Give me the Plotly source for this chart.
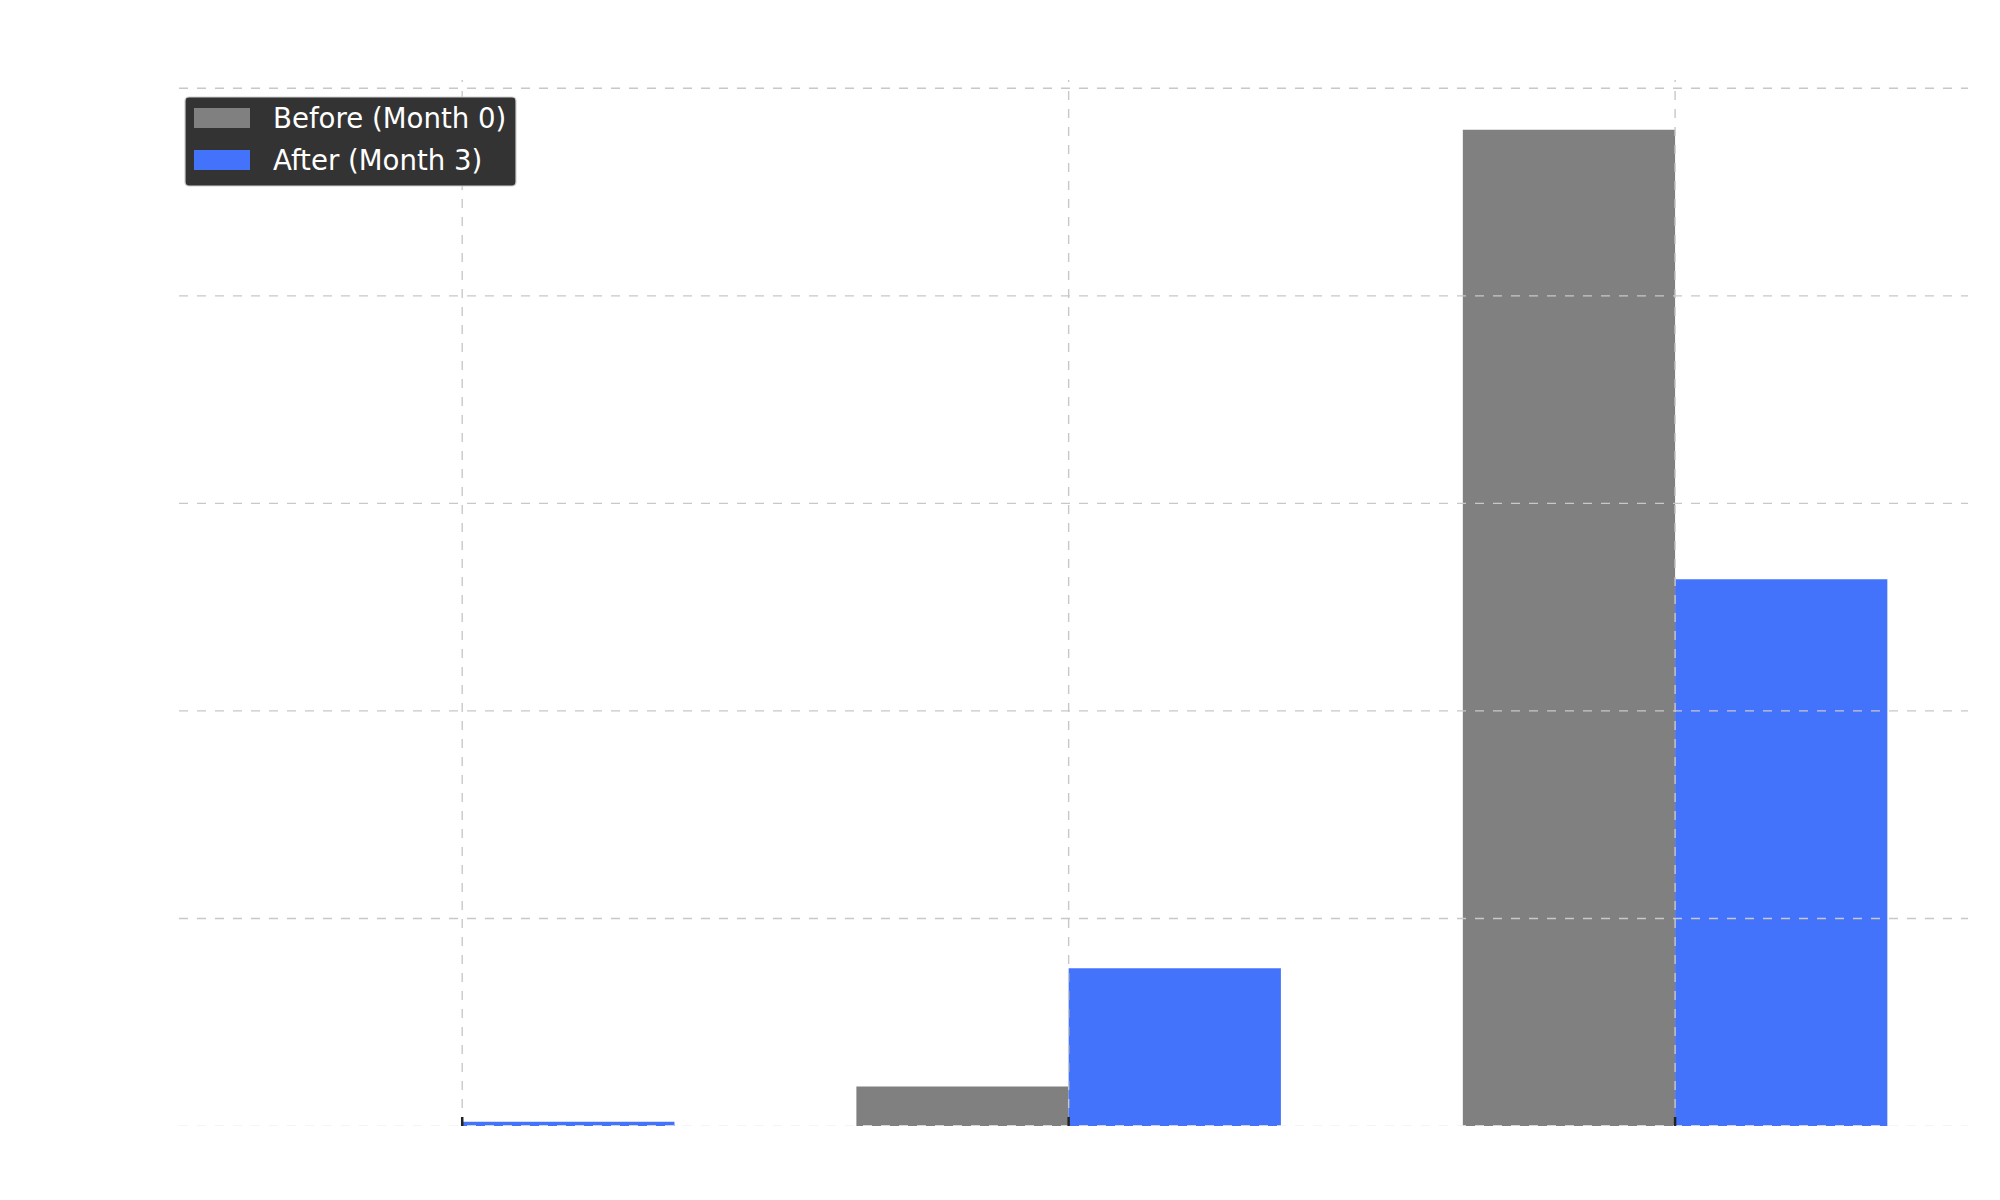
import plotly.graph_objects as go

categories = ["Mild", "Moderate", "Severe"]
before_vals = [0.0, 3.8, 96.0]
after_vals = [0.4, 15.2, 52.7]
y_ticks = [0, 20, 40, 60, 80, 100]
series_names = ["Before (Month 0)", "After (Month 3)"]

GRAY = "#808080"
BLUE = "#4473FB"
GRID = "#c8c8c8"

# plot area in pixels (for placing the legend box)
L, R, T, B = 179, 1968, 80, 1126
W, H = R - L, B - T


def px(x):
    return (x - L) / W


def py(y):
    return (B - y) / H


fig = go.Figure()
xs = list(range(len(categories)))
fig.add_trace(go.Bar(x=xs, y=before_vals, name=series_names[0],
                     marker=dict(color=GRAY, line=dict(width=0)),
                     width=0.35, offset=-0.35, showlegend=False))
fig.add_trace(go.Bar(x=xs, y=after_vals, name=series_names[1],
                     marker=dict(color=BLUE, line=dict(width=0)),
                     width=0.35, offset=0.0, showlegend=False))

shapes = []
for t in y_ticks:
    shapes.append(dict(type="line", xref="paper", yref="y", x0=0, x1=1, y0=t, y1=t,
                       line=dict(color="#f2f2f2" if t == 0 else GRID, width=1.4, dash="dash"),
                       layer="above"))
for i in xs:
    shapes.append(dict(type="line", xref="x", yref="paper", x0=i, x1=i, y0=0, y1=1,
                       line=dict(color=GRID, width=1.4, dash="dash"),
                       layer="above"))
    # tick mark (inside, pointing up)
    shapes.append(dict(type="line", xref="x", yref="paper", x0=i, x1=i, y0=0, y1=9 / H,
                       line=dict(color="#222222", width=2.5), layer="above"))

# legend box (rounded)
bx0, bx1, by0, by1, r = 185, 516, 97, 186, 4
path = (f"M{px(bx0 + r)},{py(by0)} L{px(bx1 - r)},{py(by0)} "
        f"Q{px(bx1)},{py(by0)} {px(bx1)},{py(by0 + r)} "
        f"L{px(bx1)},{py(by1 - r)} Q{px(bx1)},{py(by1)} {px(bx1 - r)},{py(by1)} "
        f"L{px(bx0 + r)},{py(by1)} Q{px(bx0)},{py(by1)} {px(bx0)},{py(by1 - r)} "
        f"L{px(bx0)},{py(by0 + r)} Q{px(bx0)},{py(by0)} {px(bx0 + r)},{py(by0)} Z")
shapes.append(dict(type="path", xref="paper", yref="paper", path=path,
                   fillcolor="#333333", line=dict(color="#d0d0d0", width=1.2), layer="above"))

annotations = []
colors = [GRAY, BLUE]
row_y = [118, 160]
for name, c, yc in zip(series_names, colors, row_y):
    shapes.append(dict(type="rect", xref="paper", yref="paper",
                       x0=px(194), x1=px(250), y0=py(yc - 10), y1=py(yc + 10),
                       fillcolor=c, line=dict(width=0), layer="above"))
    annotations.append(dict(xref="paper", yref="paper", x=px(271), y=py(yc),
                            xanchor="left", yanchor="middle", showarrow=False,
                            text=name, font=dict(size=27.6, color="white", family="DejaVu Sans")))

fig.update_layout(
    width=2000, height=1200,
    paper_bgcolor="white", plot_bgcolor="white",
    margin=dict(l=L, r=2000 - R, t=T, b=1200 - B),
    font=dict(family="DejaVu Sans", size=20, color="white"),
    showlegend=False,
    shapes=shapes,
    annotations=annotations,
    bargap=0.3, bargroupgap=0,
)
fig.update_xaxes(range=[-0.467, 2.483], tickmode="array",
                 tickvals=xs, ticktext=categories,
                 showgrid=False, zeroline=False, showline=False, ticks="",
                 tickfont=dict(color="white", size=20))
fig.update_yaxes(range=[0, 100.8], tickmode="array", tickvals=y_ticks,
                 showgrid=False, zeroline=False, showline=False, ticks="",
                 tickfont=dict(color="white", size=20))

fig.write_html("out.html")
